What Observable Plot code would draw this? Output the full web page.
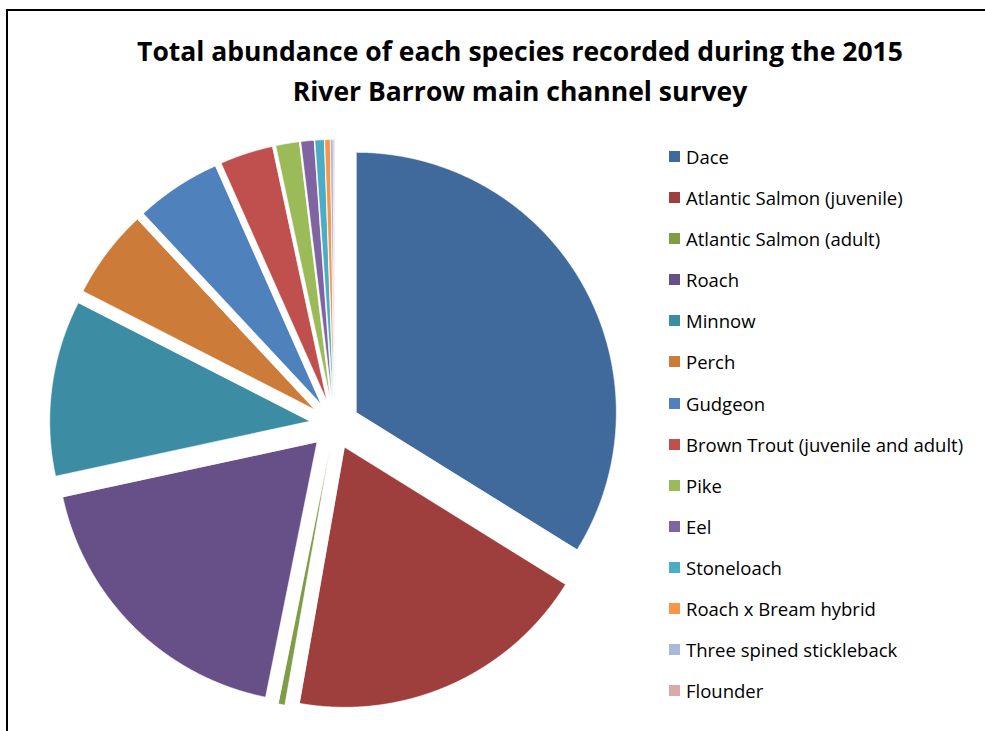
<!DOCTYPE html>
<html>
<head>
<meta charset="utf-8">
<script src="https://cdn.jsdelivr.net/npm/d3@7"></script>
<script src="https://cdn.jsdelivr.net/npm/@observablehq/plot@0.6"></script>
<style>
  body { margin: 0; background: #fff; }
  #page { position: relative; width: 985px; height: 731px; overflow: hidden; font-family: "Open Sans", Lato, sans-serif; color: #000; }
  #frame { position: absolute; left: 6px; top: 9px; width: 1200px; height: 1000px; border-top: 2px solid #000; border-left: 2px solid #000; }
  #title { position: absolute; left: 0; top: 32px; width: 1040px; text-align: center; font-weight: bold; font-size: 26.5px; line-height: 39.5px; }
  #chart { position: absolute; left: 0; top: 120px; }
  #legend { position: absolute; left: 669px; top: 136px; }
  .row { height: 41.08px; display: flex; align-items: center; font-size: 18.5px; white-space: nowrap; }
  .sw { width: 11px; height: 11px; margin-right: 6px; flex: none; }
</style>
</head>
<body>
<div id="page">
  <div id="frame"></div>
  <div id="title">Total abundance of each species recorded during the 2015<br>River Barrow main channel survey</div>
  <div id="chart"></div>
  <div id="legend"></div>
</div>
<script>
// Species recorded, in survey order
const species = [
  "Dace",
  "Atlantic Salmon (juvenile)",
  "Atlantic Salmon (adult)",
  "Roach",
  "Minnow",
  "Perch",
  "Gudgeon",
  "Brown Trout (juvenile and adult)",
  "Pike",
  "Eel",
  "Stoneloach",
  "Roach x Bream hybrid",
  "Three spined stickleback",
  "Flounder"
];

// Total number of fish counted per species
const counts = [422, 236, 5, 230, 136, 69, 66, 41, 18, 10, 7, 4, 2, 1];

// Slice colours, one per species
const colors = [
  "#416a9c", "#9e3f3d", "#7f9c47", "#674f88", "#3c8da3", "#cd7b38",
  "#4f81bd", "#c0504d", "#9bbb59", "#8064a2", "#4bacc6", "#f79646",
  "#a9b9da", "#dba9a8"
];

// Layout of the pie inside its SVG
const W = 640, H = 611;      // svg size
const CX = 334, CY = 304;    // pie centre, px
const R = 260;               // radius, px
const EXPLODE = 0.096;       // slice offset as a share of the radius

const arcs = d3.pie().sort(null).value(d => d.count)(
  species.map((s, i) => ({species: s, count: counts[i]}))
);

// Outline of each exploded wedge in radius units (y up, angles clockwise from 12 o'clock)
const outline = [];
for (const a of arcs) {
  const mid = (a.startAngle + a.endAngle) / 2;
  const ox = EXPLODE * Math.sin(mid), oy = EXPLODE * Math.cos(mid);
  const name = a.data.species;
  outline.push({species: name, x: ox, y: oy});
  const n = Math.max(2, Math.ceil((a.endAngle - a.startAngle) / (Math.PI / 720)));
  for (let k = 0; k <= n; ++k) {
    const t = a.startAngle + (a.endAngle - a.startAngle) * k / n;
    outline.push({species: name, x: ox + Math.sin(t), y: oy + Math.cos(t)});
  }
}

const chart = Plot.plot({
  width: W,
  height: H,
  margin: 0,
  x: {domain: [-CX / R, (W - CX) / R], axis: null},
  y: {domain: [-(H - CY) / R, CY / R], axis: null},
  color: {domain: species, range: colors},
  marks: [
    Plot.line(outline, {
      x: "x", y: "y", z: "species", fill: "species",
      stroke: "white", strokeWidth: 0.6, curve: "linear-closed"
    })
  ]
});
document.getElementById("chart").appendChild(chart);

// Legend built from the plot's colour scale
const color = chart.scale("color");
const legend = d3.select("#legend");
species.forEach((s, i) => {
  const row = legend.append("div").attr("class", "row");
  row.append("div").attr("class", "sw").style("background", color.range[i]);
  row.append("span").text(s);
});
</script>
</body>
</html>
